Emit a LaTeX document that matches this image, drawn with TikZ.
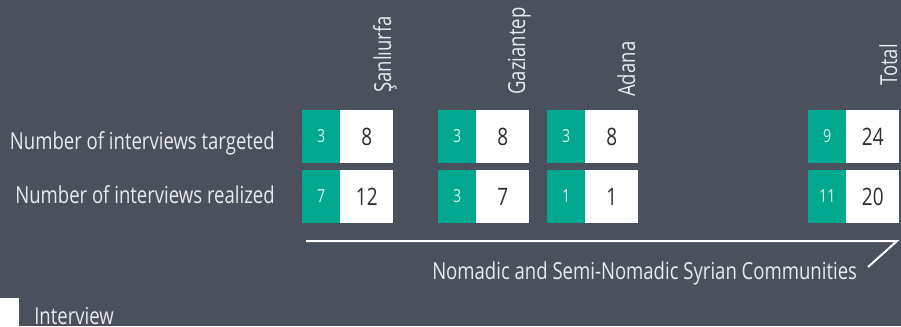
\documentclass[tikz,border=0pt]{standalone}
\usepackage{fontspec}
\setmainfont{Open Sans}[FakeStretch=0.79]
\definecolor{bg}{RGB}{74,80,92}
\definecolor{teal}{RGB}{0,168,143}
\definecolor{lighttxt}{RGB}{232,234,236}
\definecolor{darktxt}{RGB}{45,45,45}
\definecolor{tealtxt}{RGB}{215,240,233}
\tikzset{
  bigfont/.style={font=\fontsize{17.6}{19}\selectfont},
  tealbox/.style={fill=teal, minimum width=28.5pt, minimum height=39.75pt, inner sep=0pt, anchor=west, text=tealtxt, font=\fontsize{13.5}{14}\selectfont},
  whitebox/.style={fill=white, minimum width=39.75pt, minimum height=39.75pt, inner sep=0pt, anchor=west, text=darktxt, font=\fontsize{18}{19}\selectfont},
  rowlabel/.style={anchor=base east, inner sep=0pt, text=lighttxt, bigfont},
  collabel/.style={rotate=90, anchor=base west, inner sep=0pt, text=lighttxt, bigfont},
  plaintext/.style={anchor=base west, inner sep=0pt, text=lighttxt, bigfont},
  bracket/.style={draw=white, line width=1.5pt}
}
\begin{document}
\begin{tikzpicture}[x=0.75pt,y=-0.75pt]
\useasboundingbox (0,0) rectangle (901,326);
\fill[bg] (0,0) rectangle (901,326);
% row labels
\node[rowlabel] (rt) at (275,149) {Number of interviews targeted};
\node[rowlabel] (rr) at (275,203) {Number of interviews realized};
% column labels
\node[collabel] (cs) at (391,93) {Şanlıurfa};
\node[collabel] (cg) at (525,95) {Gaziantep};
\node[collabel] (ca) at (635,97) {Adana};
\node[collabel] (ct) at (897,86) {Total};
% Sanliurfa
\node[tealbox] (s1t) at (302,136.5) {3};
\node[whitebox] (s1w) at (340,136.5) {8};
\node[tealbox] (s2t) at (302,196.5) {7};
\node[whitebox] (s2w) at (340,196.5) {12};
% Gaziantep
\node[tealbox] (g1t) at (438,136.5) {3};
\node[whitebox] (g1w) at (476,136.5) {8};
\node[tealbox] (g2t) at (438,196.5) {3};
\node[whitebox] (g2w) at (476,196.5) {7};
% Adana
\node[tealbox] (a1t) at (547,136.5) {3};
\node[whitebox] (a1w) at (585,136.5) {8};
\node[tealbox] (a2t) at (547,196.5) {1};
\node[whitebox] (a2w) at (585,196.5) {1};
% Total
\node[tealbox] (t1t) at (808,136.5) {9};
\node[whitebox] (t1w) at (846,136.5) {24};
\node[tealbox] (t2t) at (808,196.5) {11};
\node[whitebox] (t2w) at (846,196.5) {20};
% bracket
\coordinate (b1) at (306,241);
\coordinate (b2) at (897,241);
\coordinate (b3) at (868,267);
\draw[bracket] (b1) -- (b2) -- (b3);
\node[plaintext] (nom) at (432,279) {Nomadic and Semi-Nomadic Syrian Communities};
% legend
\node[fill=white, minimum width=14.25pt, minimum height=21pt, inner sep=0pt, anchor=north west] (leg) at (0,298) {};
\node[plaintext] (legt) at (34,324) {Interview};
\end{tikzpicture}
\end{document}
